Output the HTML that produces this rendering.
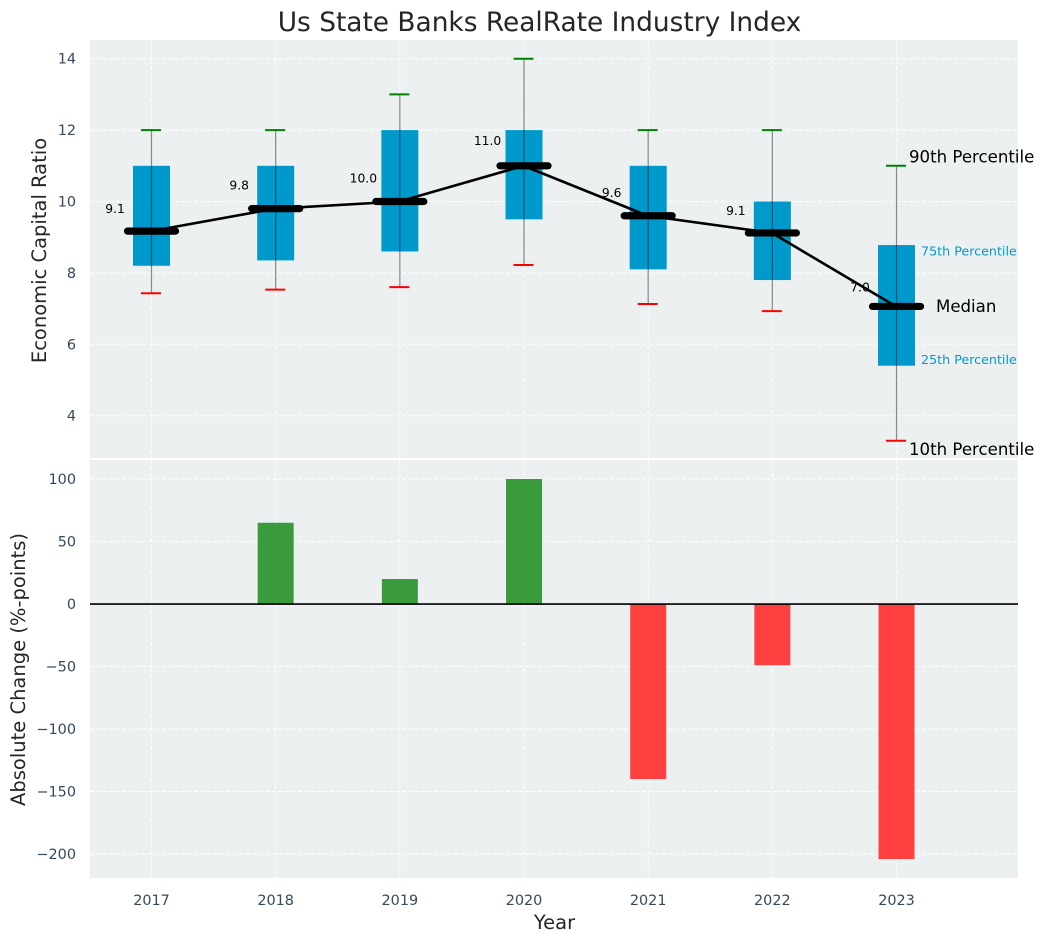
<!DOCTYPE html>
<html>
<head>
<meta charset="utf-8">
<title>Us State Banks RealRate Industry Index</title>
<style>
html,body{margin:0;padding:0;background:#fff;width:1044px;height:942px;overflow:hidden}
svg{display:block}
text{font-family:"DejaVu Sans","Liberation Sans",sans-serif}
</style>
</head>
<body>
<svg id="chart" width="1044" height="942" viewBox="0 0 1044 942" xmlns="http://www.w3.org/2000/svg"></svg>
<script>
const years = [2017, 2018, 2019, 2020, 2021, 2022, 2023];
const p10 = [7.43, 7.53, 7.6, 8.22, 7.13, 6.93, 3.3];
const p25 = [8.2, 8.35, 8.6, 9.5, 8.1, 7.8, 5.4];
const medians = [9.17, 9.8, 10, 11, 9.6, 9.12, 7.06];
const p75 = [11, 11, 12, 12, 11, 10, 8.78];
const p90 = [12, 12, 13, 14, 12, 12, 11];
const medianLabels = ["9.1", "9.8", "10.0", "11.0", "9.6", "9.1", "7.0"];
const changes = [0, 65, 20, 100, -140, -49, -204];
const topTicks = [4, 6, 8, 10, 12, 14];
const bottomTicks = [-200, -150, -100, -50, 0, 50, 100];

const svg = document.getElementById('chart');
const NS = 'http://www.w3.org/2000/svg';
function X(i){ return 151 + i * 124.17; }
function YT(v){ return 415.7 - (v - 4) * 35.7; }
function YB(v){ return 604 - v * 1.25; }
function make(tag, attrs, text){
  const el = document.createElementNS(NS, tag);
  for (const k in attrs) el.setAttribute(k, attrs[k]);
  if (text !== undefined) el.textContent = text;
  svg.appendChild(el);
  return el;
}
const GRID = {stroke:'#ffffff','stroke-width':1,'stroke-dasharray':'4 2.5'};
const TICK = {fill:'#34495e','font-size':14.4};
let el;

el = make('text',{x:539.5,y:31,'text-anchor':'middle','font-size':26.4,fill:'#262626'},'Us State Banks RealRate Industry Index');



el = make('rect',{x:90,y:40,width:928,height:418,fill:'#ecf0f1'});


el = make('rect',{x:90,y:460,width:928,height:418,fill:'#ecf0f1'});



years.forEach(function(y,i){
  const x = X(i) + 0.5;
  el = make('line',Object.assign({x1:x,x2:x,y1:40,y2:458},GRID));
  
  
  el = make('line',Object.assign({x1:x,x2:x,y1:460,y2:878},GRID));
  
  
  el = make('text',Object.assign({x:x,y:905,'text-anchor':'middle'},TICK),String(y));
  
  
});
topTicks.forEach(function(t){
  const y = YT(t);
  el = make('line',Object.assign({x1:90,x2:1018,y1:y,y2:y},GRID));
  
  
  el = make('text',Object.assign({x:76,y:y+5,'text-anchor':'end'},TICK),String(t));
  
  
});
bottomTicks.forEach(function(t){
  const y = YB(t);
  el = make('line',Object.assign({x1:90,x2:1018,y1:y,y2:y},GRID));
  
  
  el = make('text',Object.assign({x:76,y:y+5,'text-anchor':'end'},TICK),String(t).replace('-','\u2212'));
  
  
});

years.forEach(function(y,i){
  const x = X(i);
  el = make('rect',{x:x-18,y:YT(p75[i]),width:37,height:YT(p25[i])-YT(p75[i]),fill:'#0099cc'});
  
  
  el = make('line',{x1:x+0.5,x2:x+0.5,y1:YT(p90[i]),y2:YT(p10[i]),stroke:'#000','stroke-opacity':0.45,'stroke-width':1.2});
  
  
  el = make('line',{x1:x-10,x2:x+10,y1:YT(p90[i]),y2:YT(p90[i]),stroke:'#008000','stroke-width':2});
  
  
  el = make('line',{x1:x-10,x2:x+10,y1:YT(p10[i]),y2:YT(p10[i]),stroke:'#ff0000','stroke-width':2});
  
  
  el = make('text',{x:x-36,y:YT(medians[i])-18-(medians[i]-9.17)*1.5,'text-anchor':'middle','font-size':12.3,fill:'#000'},medianLabels[i]);
  
  
});

el = make('polyline',{points:years.map(function(y,i){return X(i)+','+YT(medians[i]);}).join(' '),fill:'none',stroke:'#000','stroke-width':2.6});



years.forEach(function(y,i){
  el = make('line',{x1:X(i)-23.5,x2:X(i)+24.5,y1:YT(medians[i]),y2:YT(medians[i]),stroke:'#000','stroke-width':7.2,'stroke-linecap':'round'});
  
  
});

changes.forEach(function(v,i){
  if (v === 0) return;
  const top = Math.min(YB(v),YB(0));
  el = make('rect',{x:X(i)-17.5,y:top,width:36,height:Math.abs(YB(v)-YB(0)),fill:v>0?'#3a9b3d':'#ff4040'});
  
  
});
el = make('line',{x1:90,x2:1018,y1:YB(0)+0.1,y2:YB(0)+0.1,stroke:'#000','stroke-width':1.6});



const last = years.length - 1;
el = make('text',{x:909,y:YT(p90[last])-3.5,'font-size':16.6,fill:'#000'},'90th Percentile');


el = make('text',{x:909,y:YT(p10[last])+14.5,'font-size':16.6,fill:'#000'},'10th Percentile');


el = make('text',{x:936,y:YT(medians[last])+5.5,'font-size':16.6,fill:'#000'},'Median');


el = make('text',{x:921,y:YT(p75[last])+10.5,'font-size':12.7,fill:'#009acd'},'75th Percentile');


el = make('text',{x:921,y:YT(p25[last])-1.5,'font-size':12.7,fill:'#009acd'},'25th Percentile');



el = make('text',{x:46,y:250.5,'text-anchor':'middle','font-size':19.5,fill:'#262626',transform:'rotate(-90 46 250.5)'},'Economic Capital Ratio');


el = make('text',{x:25,y:669.5,'text-anchor':'middle','font-size':19.5,fill:'#262626',transform:'rotate(-90 25 669.5)'},'Absolute Change (%-points)');


el = make('text',{x:554.5,y:929,'text-anchor':'middle','font-size':19.5,fill:'#262626'},'Year');


</script>
</body>
</html>
